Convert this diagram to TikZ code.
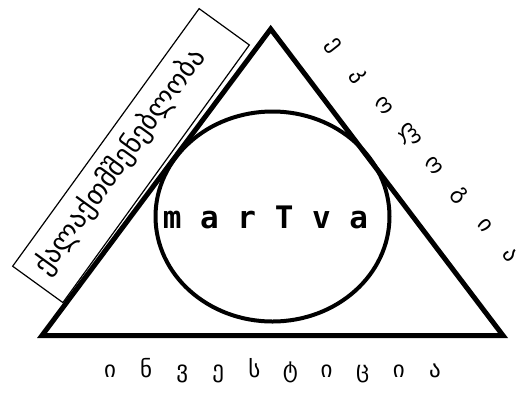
\documentclass[tikz,border=0pt]{standalone}
\usepackage{fontspec}
\usetikzlibrary{shapes.geometric}
\newfontfamily\geofont{DejaVu Sans}
\newfontfamily\coremono{DejaVu Sans Mono}

\begin{document}
\begin{tikzpicture}[x=1pt,y=-1pt,
  edge/.style={line width=5pt,line join=miter},
  lett/.style={font=\geofont\fontsize{23}{23}\selectfont,inner sep=0pt}]
  \useasboundingbox (0,0) rectangle (531,392);
  % tilted box on the left side
  \node[draw,line width=1.2pt,fill=white,rotate=54.1,inner sep=0pt,
        minimum width=318,minimum height=62] (planbox) at (131,155.6) {};
  \node[font=\geofont\fontsize{27.5}{27.5}\selectfont,rotate=54.1,inner sep=0pt]
     (plantext) at (120,162) {ქალაქთმშენებლობა};
  % triangle and circle
  \coordinate (apex) at (270.7,29);
  \coordinate (lcorner) at (42,335.5);
  \coordinate (rcorner) at (503,335.5);
  \draw[edge] (apex) -- (rcorner) -- (lcorner) -- cycle;
  \node[draw,ellipse,line width=4pt,inner sep=0pt,
        minimum width=234,minimum height=210] (core) at (272.5,216.5) {};
  \node[font=\coremono\bfseries\fontsize{31}{31}\selectfont,anchor=base]
     (coretext) at (265.5,228) {m a r T v a};
  % letters round the triangle
  \foreach \c [count=\i] in {ე,კ,ო,ლ,ო,გ,ი,ა}
     {\node[lett,rotate=-52] (eco\i) at ({333+25.3*(\i-1)},{46+29.9*(\i-1)}) {\c};}
  \foreach \c [count=\i] in {ი,ნ,ვ,ე,ს,ტ,ი,ც,ი,ა}
     {\node[lett,anchor=base] (inv\i) at ({110+36.1*(\i-1)},377) {\c};}
\end{tikzpicture}
\end{document}
